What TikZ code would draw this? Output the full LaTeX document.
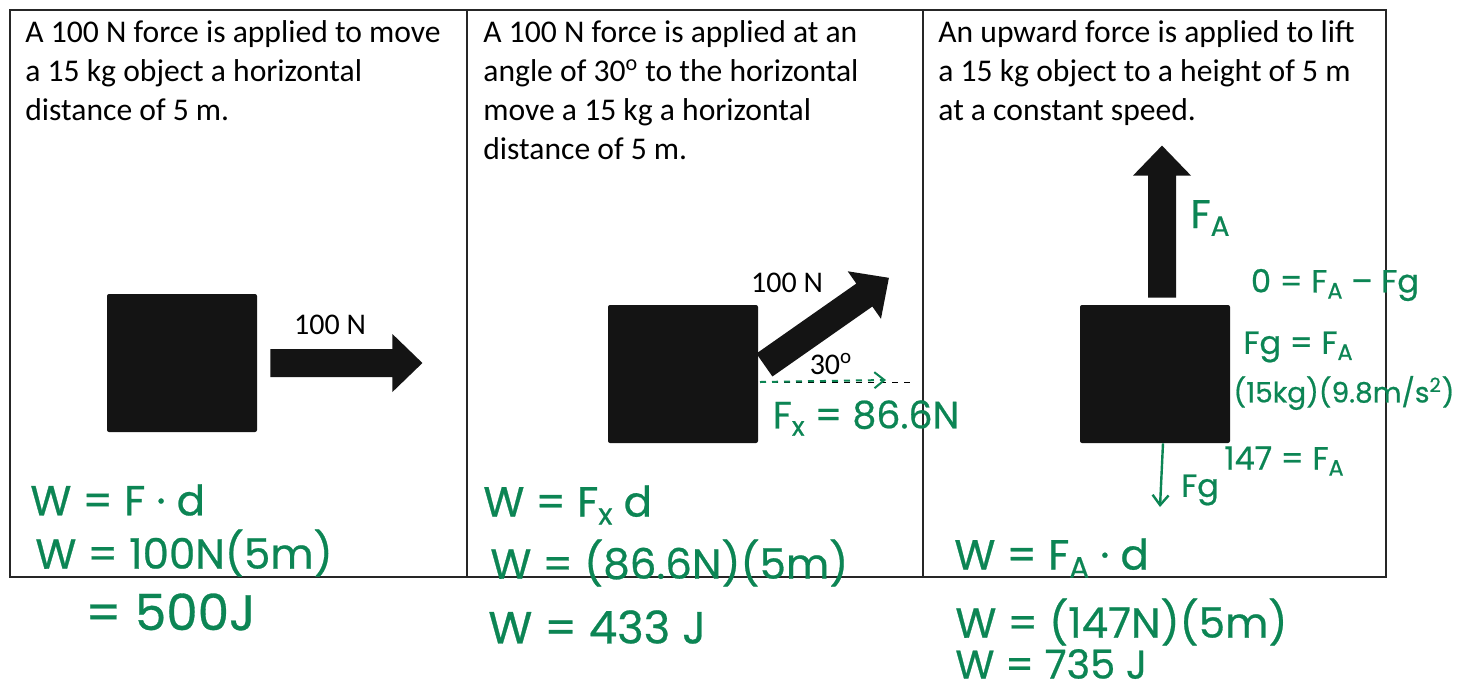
\documentclass[tikz,border=0pt]{standalone}
\usepackage{fontspec}
\setmainfont{Carlito}
\newfontfamily\handfont{Poppins}[FakeBold=0.6]
\usetikzlibrary{positioning,arrows.meta}
\definecolor{inkgreen}{RGB}{12,133,84}
\newcommand\lowidx[1]{\raisebox{-0.35ex}{\fontsize{0.7em}{0.7em}\selectfont #1}}
\tikzset{
  forceArrow/.pic = {
    % The arrow dimensions
    \def\lshaft{122}
    \def\lhead{30}
    \def\wshaft{14}
    \def\whead{29}
    % Shaft and head in one filled outline
    \fill[black!92] (0,-\wshaft) -- (\lshaft,-\wshaft) -- (\lshaft,-\whead)
      -- (\lshaft+\lhead,0) -- (\lshaft,\whead) -- (\lshaft,\wshaft) -- (0,\wshaft) -- cycle;
            },
  block/.style = {fill=black!92, inner sep=0pt, minimum width=75pt, minimum height=69pt, rounded corners=1pt},
  prompt/.style = {anchor=north west, align=left, inner sep=0pt, font=\fontsize{15.8pt}{19.5pt}\selectfont},
  tag/.style = {inner sep=0pt, font=\fontsize{15pt}{18pt}\selectfont},
  hand/.style = {inkgreen, anchor=west, inner sep=0pt, font=\handfont\fontsize{21pt}{24pt}\selectfont},
  note/.style = {inkgreen, inner sep=0pt, font=\handfont\fontsize{16pt}{19pt}\selectfont},
  gline/.style = {inkgreen, line width=1.2pt, -{Straight Barb[length=5pt,width=8pt]}}
         }

\begin{document}
\begin{tikzpicture}[x=0.5pt, y=-0.5pt]
    \fill[white] (0,0) rectangle (1458,693);
    \useasboundingbox (0,0) rectangle (1458,693);
    % Table frame and column rules
    \draw[line width=0.9pt, black!85] (10,10) rectangle (1386,577);
    \draw[line width=0.9pt, black!85] (467,10) -- (467,577);
    \draw[line width=0.9pt, black!85] (923,10) -- (923,577);
    % Question texts
    \node[prompt] (textA) at (25,20) {A 100 N force is applied to move\\a 15 kg object a horizontal\\distance of 5 m.};
    \node[prompt] (textB) at (483,20) {A 100 N force is applied at an\\angle of 30\textsuperscript{o} to the horizontal\\move a 15 kg a horizontal\\distance of 5 m.};
    \node[prompt] (textC) at (938,20) {An upward force is applied to lift\\a 15 kg object to a height of 5 m\\at a constant speed.};
    % The three blocks
    \node[block] (boxA) at (182,363) {};
    \node[block] (boxB) at (683,374) {};
    \node[block] (boxC) at (1155,374) {};
    % Applied forces
    \path (boxA.east) ++(13,0) pic {forceArrow};
    \path (boxB.east) ++(6,-9) pic[rotate=35] {forceArrow};
    \path (boxC.north) ++(7,-7) pic[rotate=90] {forceArrow};
    \node[tag] (labelA) at (330,325) {100 N};
    \node[tag] (labelB) at (787,283) {100 N};
    % Horizontal reference and component
    \coordinate (horizStart) at (760,382);
    \coordinate (horizEnd) at (915,382);
    \coordinate (compTip) at (886,380);
    \draw[dashed, thin] (horizStart) -- (horizEnd);
    \draw[gline, dashed, line width=1pt] (horizStart) -- (compTip);
    \node[tag] (angleB) at (831,364) {30\textsuperscript{o}};
    \node[note, font=\handfont\fontsize{19pt}{22pt}\selectfont] (compB) at (866,418) {F\lowidx{x} = 86.6N};
    % Weight and notes of the lifted block
    \coordinate (weightTip) at (1160,507);
    \draw[gline] ([xshift=4pt]boxC.south) -- (weightTip);
    \node[note] (weightC) at (1200,490) {Fg};
    \node[note, font=\handfont\fontsize{20pt}{24pt}\selectfont] (liftC) at (1210,218) {F\lowidx{A}};
    \node[note] (stepC1) at (1335,285) {0 = F\lowidx{A} – Fg};
    \node[note] (stepC2) at (1298,347) {Fg = F\lowidx{A}};
    \node[note, font=\handfont\fontsize{14pt}{17pt}\selectfont] (stepC3) at (1344,393) {(15kg)(9.8m/s\textsuperscript{2})};
    \node[note] (stepC4) at (1284,461) {147 = F\lowidx{A}};
    % Worked answers
    \node[hand] (workA1) at (30,500) {W = F · d};
    \node[hand] (workA2) at (35,553) {W = 100N(5m)};
    \node[hand, font=\handfont\fontsize{25pt}{28pt}\selectfont] (workA3) at (85,612) {= 500J};
    \node[hand] (workB1) at (483,505) {W = F\lowidx{x} d};
    \node[hand] (workB2) at (490,563) {W = (86.6N)(5m)};
    \node[hand, font=\handfont\fontsize{22.5pt}{26pt}\selectfont] (workB3) at (488,627) {W = 433 J};
    \node[hand] (workC1) at (954,558) {W = F\lowidx{A} · d};
    \node[hand] (workC2) at (955,622) {W = (147N)(5m)};
    \node[hand, font=\handfont\fontsize{20pt}{23pt}\selectfont] (workC3) at (955,664) {W = 735 J};
\end{tikzpicture}
\end{document}
